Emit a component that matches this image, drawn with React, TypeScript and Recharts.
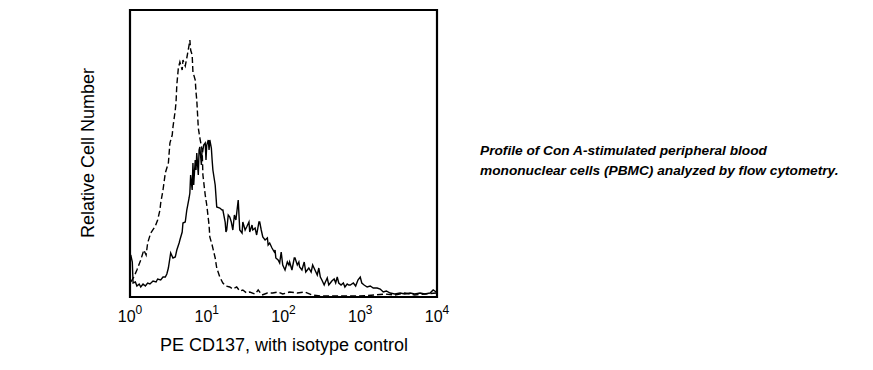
import { LineChart, Line, XAxis, YAxis, ReferenceArea } from 'recharts'

// ─── Data (x = log10 PE fluorescence, y = relative cell count) ───────────────

const decades = [0, 1, 2, 3, 4]

const isotypeLog = [
  0.01, 0.05, 0.09, 0.14, 0.18, 0.21, 0.23, 0.27, 0.33, 0.36, 0.39, 0.4, 0.43, 0.46, 0.48, 0.5,
  0.52, 0.55, 0.56, 0.59, 0.6, 0.61, 0.63, 0.65, 0.68, 0.69, 0.72, 0.74, 0.77, 0.78, 0.79, 0.81,
  0.82, 0.85, 0.86, 0.87, 0.89, 0.91, 0.94, 0.95, 0.98, 1.0, 1.03, 1.04, 1.07, 1.11, 1.13, 1.17,
  1.21, 1.25, 1.3, 1.34, 1.39, 1.43, 1.47, 1.52, 1.56, 1.63, 1.67, 1.72, 1.79, 1.86, 1.93, 1.99,
  2.08, 2.18, 2.28, 2.37, 2.48, 2.61, 2.74, 2.87, 2.99, 3.19, 3.32, 3.45, 3.58, 3.71, 3.84, 3.99,
]
const isotypeCount = [
  15, 20, 27, 37, 47, 42, 54, 64, 71, 77, 87, 94, 107, 124, 129, 134,
  154, 162, 170, 187, 195, 212, 229, 235, 227, 237, 231, 239, 252, 257, 247, 242,
  225, 217, 205, 197, 169, 159, 147, 122, 102, 92, 72, 60, 52, 39, 29, 20,
  14, 11, 10, 8, 10, 6, 7, 4, 5, 3, 7, 2, 4, 4, 5, 3,
  5, 4, 5, 2, 1, 1, 1, 1, 1, 2, 3, 2, 4, 2, 3, 4,
]

const stainedLog = [
  0.01, 0.03, 0.04, 0.07, 0.09, 0.12, 0.14, 0.17, 0.2, 0.23, 0.26, 0.3, 0.34, 0.36, 0.4, 0.43,
  0.46, 0.48, 0.5, 0.52, 0.53, 0.56, 0.59, 0.61, 0.64, 0.65, 0.68, 0.69, 0.72, 0.74, 0.77, 0.78,
  0.79, 0.81, 0.82, 0.83, 0.85, 0.86, 0.87, 0.89, 0.9, 0.91, 0.93, 0.94, 0.95, 0.96, 0.98, 0.99,
  1.0, 1.02, 1.03, 1.04, 1.06, 1.07, 1.08, 1.11, 1.13, 1.17, 1.2, 1.21, 1.24, 1.25, 1.26, 1.28,
  1.3, 1.32, 1.34, 1.36, 1.38, 1.41, 1.42, 1.43, 1.46, 1.47, 1.5, 1.52, 1.55, 1.56, 1.59, 1.6,
  1.63, 1.65, 1.68, 1.69, 1.71, 1.73, 1.76, 1.79, 1.8, 1.82, 1.85, 1.88, 1.89, 1.9, 1.93, 1.95,
  1.97, 1.99, 2.02, 2.05, 2.07, 2.08, 2.11, 2.14, 2.15, 2.18, 2.2, 2.21, 2.24, 2.27, 2.29, 2.31,
  2.33, 2.36, 2.38, 2.41, 2.44, 2.46, 2.48, 2.5, 2.53, 2.54, 2.57, 2.59, 2.61, 2.63, 2.66, 2.68,
  2.7, 2.72, 2.75, 2.78, 2.8, 2.83, 2.85, 2.87, 2.91, 2.94, 2.97, 3.0, 3.02, 3.05, 3.09, 3.13,
  3.17, 3.22, 3.26, 3.3, 3.34, 3.39, 3.45, 3.52, 3.58, 3.65, 3.71, 3.78, 3.84, 3.91, 3.95, 3.99,
]
const stainedCount = [
  42, 35, 14, 15, 11, 13, 10, 13, 11, 14, 13, 16, 15, 18, 17, 20,
  20, 23, 29, 39, 44, 39, 40, 47, 54, 57, 65, 74, 75, 87, 99, 104,
  122, 107, 134, 112, 137, 127, 144, 122, 147, 150, 132, 149, 147, 152, 154, 137,
  152, 157, 147, 157, 149, 137, 127, 112, 90, 89, 87, 87, 75, 65, 67, 82,
  80, 75, 67, 82, 77, 97, 82, 67, 64, 75, 67, 70, 75, 65, 72, 67,
  69, 62, 75, 75, 67, 60, 57, 59, 52, 54, 49, 45, 47, 39, 37, 34,
  45, 32, 27, 35, 32, 35, 27, 39, 39, 32, 35, 30, 27, 35, 25, 27,
  29, 25, 32, 27, 22, 29, 20, 17, 12, 14, 19, 12, 14, 16, 18, 14,
  20, 14, 12, 14, 10, 13, 12, 12, 14, 11, 17, 20, 14, 12, 10, 11,
  9, 9, 8, 5, 6, 4, 3, 4, 3, 4, 3, 4, 3, 4, 7, 5,
]

const isotypeData = isotypeLog.map((x, i) => ({ x, y: isotypeCount[i] }))
const stainedData = stainedLog.map((x, i) => ({ x, y: stainedCount[i] }))

const FONT = '"Liberation Sans", Arial, sans-serif'

// ─── Tick: 10 with superscript exponent ──────────────────────────────────────

function DecadeTick({ x, y, payload }: { x?: number; y?: number; payload?: { value: number } }) {
  return (
    <text x={x} y={(y ?? 0) + 17} textAnchor="middle" fontFamily={FONT} fontSize={16} fill="#000">
      <tspan>10</tspan>
      <tspan dy={-8} fontSize={12}>{payload?.value}</tspan>
    </text>
  )
}

export default function App() {
  return (
    <div style={{ position: 'absolute', left: 0, top: 0, width: 873, height: 370, background: '#fff' }}>
      <LineChart
        width={873}
        height={370}
        margin={{ top: 10, right: 436, left: 130, bottom: 43 }}
      >
        <XAxis
          type="number"
          dataKey="x"
          domain={[0, 4]}
          ticks={decades}
          tick={<DecadeTick />}
          tickLine={false}
          axisLine={false}
          height={30}
          allowDataOverflow
        />
        <YAxis type="number" dataKey="y" domain={[0, 287]} hide allowDataOverflow />
        <ReferenceArea x1={0} x2={4} y1={0} y2={287} fill="none" stroke="#000" strokeWidth={2.2} />
        <Line
          data={isotypeData}
          dataKey="y"
          type="linear"
          stroke="#000"
          strokeWidth={1.4}
          strokeDasharray="6 3"
          dot={false}
          isAnimationActive={false}
        />
        <Line
          data={stainedData}
          dataKey="y"
          type="linear"
          stroke="#000"
          strokeWidth={1.4}
          dot={false}
          isAnimationActive={false}
        />
      </LineChart>

      <div
        style={{
          position: 'absolute', left: -12, top: 143, width: 200, height: 20, lineHeight: '20px',
          textAlign: 'center', transform: 'rotate(-90deg)', fontFamily: FONT, fontSize: 18,
        }}
      >
        Relative Cell Number
      </div>
      <div
        style={{
          position: 'absolute', left: 134, top: 335, width: 300, lineHeight: '20px',
          textAlign: 'center', fontFamily: FONT, fontSize: 18,
        }}
      >
        PE CD137, with isotype control
      </div>
      <div
        style={{
          position: 'absolute', left: 480, top: 141, lineHeight: '20px',
          fontFamily: FONT, fontSize: 13.7, fontWeight: 'bold', fontStyle: 'italic',
        }}
      >
        Profile of Con A-stimulated peripheral blood
        <br />
        mononuclear cells (PBMC) analyzed by flow cytometry.
      </div>
    </div>
  )
}
